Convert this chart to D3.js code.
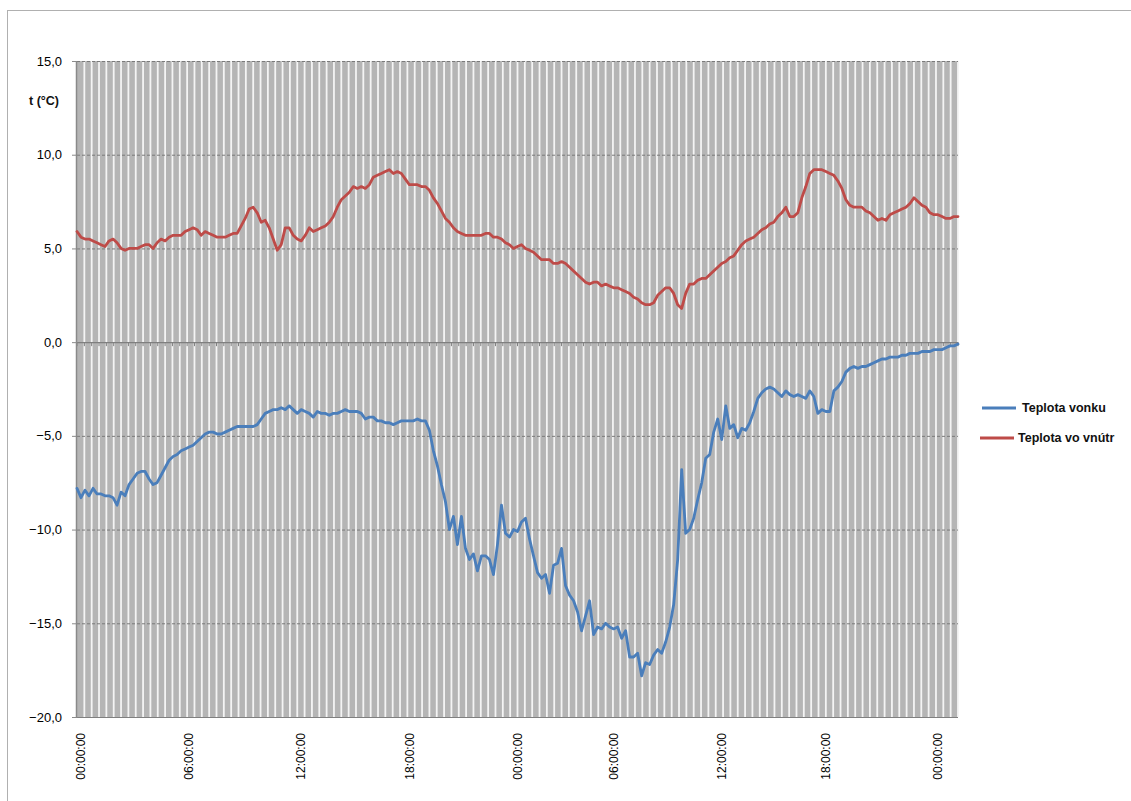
<!DOCTYPE html>
<html>
<head>
<meta charset="utf-8">
<script src="https://cdn.jsdelivr.net/npm/d3@7"></script>
<style>
  html, body { margin: 0; padding: 0; background: #fff; }
  svg { display: block; font-family: "Liberation Sans", Arial, sans-serif; }
</style>
</head>
<body>
<svg id="chart" width="1131" height="801"></svg>
<script>
// Outdoor and indoor temperature, sampled at regular intervals over two days
const tempOutside = [
  -7.8,-8.3,-7.9,-8.2,-7.8,-8.1,-8.1,-8.2,-8.2,-8.3,-8.7,-8.0,-8.2,-7.6,-7.3,-7.0,-6.9,-6.9,-7.3,-7.6,
  -7.5,-7.1,-6.7,-6.3,-6.1,-6.0,-5.8,-5.7,-5.6,-5.5,-5.3,-5.1,-4.9,-4.8,-4.8,-4.9,-4.9,-4.8,-4.7,-4.6,
  -4.5,-4.5,-4.5,-4.5,-4.5,-4.4,-4.1,-3.8,-3.7,-3.6,-3.6,-3.5,-3.6,-3.4,-3.6,-3.8,-3.6,-3.7,-3.8,-4.0,
  -3.7,-3.8,-3.8,-3.9,-3.8,-3.8,-3.7,-3.6,-3.7,-3.7,-3.7,-3.8,-4.1,-4.0,-4.0,-4.2,-4.2,-4.3,-4.3,-4.4,
  -4.3,-4.2,-4.2,-4.2,-4.2,-4.1,-4.2,-4.2,-4.7,-5.8,-6.6,-7.6,-8.5,-10.0,-9.3,-10.8,-9.3,-11.0,-11.6,-11.3,
  -12.2,-11.4,-11.4,-11.6,-12.4,-10.8,-8.7,-10.2,-10.4,-10.0,-10.1,-9.6,-9.4,-10.5,-11.4,-12.3,-12.6,-12.4,-13.4,-11.9,
  -11.8,-11.0,-13.0,-13.5,-13.8,-14.4,-15.4,-14.6,-13.8,-15.6,-15.2,-15.3,-15.0,-15.2,-15.3,-15.2,-15.8,-15.4,-16.8,-16.8,
  -16.6,-17.8,-17.1,-17.2,-16.7,-16.4,-16.6,-16.0,-15.2,-14.0,-11.6,-6.8,-10.2,-10.0,-9.4,-8.4,-7.5,-6.2,-6.0,-4.8,
  -4.1,-5.2,-3.4,-4.6,-4.4,-5.1,-4.6,-4.7,-4.3,-3.7,-3.0,-2.7,-2.5,-2.4,-2.5,-2.7,-2.9,-2.6,-2.8,-2.9,
  -2.8,-2.9,-3.0,-2.6,-2.9,-3.8,-3.6,-3.7,-3.7,-2.6,-2.4,-2.1,-1.6,-1.4,-1.3,-1.4,-1.3,-1.3,-1.2,-1.1,
  -1.0,-0.9,-0.9,-0.8,-0.8,-0.8,-0.7,-0.7,-0.6,-0.6,-0.6,-0.5,-0.5,-0.5,-0.4,-0.4,-0.4,-0.3,-0.2,-0.2,
  -0.1
];

const tempInside = [
  5.9,5.6,5.5,5.5,5.4,5.3,5.2,5.1,5.4,5.5,5.3,5.0,4.9,5.0,5.0,5.0,5.1,5.2,5.2,5.0,
  5.3,5.5,5.4,5.6,5.7,5.7,5.7,5.9,6.0,6.1,6.0,5.7,5.9,5.8,5.7,5.6,5.6,5.6,5.7,5.8,
  5.8,6.2,6.6,7.1,7.2,6.9,6.4,6.5,6.1,5.5,4.9,5.2,6.1,6.1,5.7,5.5,5.4,5.7,6.1,5.9,
  6.0,6.1,6.2,6.4,6.7,7.2,7.6,7.8,8.0,8.3,8.2,8.3,8.2,8.4,8.8,8.9,9.0,9.1,9.2,9.0,
  9.1,9.0,8.7,8.4,8.4,8.4,8.3,8.3,8.1,7.7,7.4,7.0,6.6,6.4,6.1,5.9,5.8,5.7,5.7,5.7,
  5.7,5.7,5.8,5.8,5.6,5.6,5.5,5.3,5.2,5.0,5.1,5.2,5.0,4.9,4.8,4.6,4.4,4.4,4.4,4.2,
  4.2,4.3,4.2,4.0,3.8,3.6,3.4,3.2,3.1,3.2,3.2,3.0,3.1,3.0,2.9,2.9,2.8,2.7,2.6,2.4,
  2.3,2.1,2.0,2.0,2.1,2.5,2.7,2.9,2.9,2.6,2.0,1.8,2.6,3.1,3.1,3.3,3.4,3.4,3.6,3.8,
  4.0,4.2,4.3,4.5,4.6,4.9,5.2,5.4,5.5,5.6,5.8,6.0,6.1,6.3,6.4,6.7,6.9,7.2,6.7,6.7,
  6.9,7.7,8.3,9.0,9.2,9.2,9.2,9.1,9.0,8.9,8.6,8.2,7.6,7.3,7.2,7.2,7.2,7.0,6.9,6.7,
  6.5,6.6,6.5,6.8,6.9,7.0,7.1,7.2,7.4,7.7,7.5,7.3,7.2,6.9,6.8,6.8,6.7,6.6,6.6,6.7,
  6.7
];

const seriesNames = ["Teplota vonku", "Teplota vo vnútr"];
const seriesColors = ["#4a7ebb", "#be4b48"];

// Category-axis labels and the sample index each one sits on
const tickLabels = ["00:00:00","06:00:00","12:00:00","18:00:00","00:00:00","06:00:00","12:00:00","18:00:00","00:00:00"];
const tickIndex  = [0, 27, 55, 82, 109, 133, 160, 186, 214];

// Value axis
const yTicks = [15, 10, 5, 0, -5, -10, -15, -20];
const yTitle = "t (°C)";
const gridCount = 120; // number of vertical gridline intervals

const svg = d3.select("#chart");
const plot = { left: 77, right: 958, top: 61, bottom: 717 };

const x = d3.scaleLinear().domain([0, tempOutside.length - 1]).range([plot.left, plot.right]);
const y = d3.scaleLinear().domain([-20, 15]).range([plot.bottom, plot.top]);
const xGrid = d3.scaleLinear().domain([0, gridCount]).range([plot.left, plot.right]);

// Chart frame
svg.append("rect")
  .attr("x", 7.5).attr("y", 10.5).attr("width", 1140).attr("height", 800)
  .attr("fill", "#fff").attr("stroke", "#b0b0b0").attr("stroke-width", 1);

// Plot background
svg.append("rect")
  .attr("x", plot.left).attr("y", plot.top)
  .attr("width", plot.right - plot.left).attr("height", plot.bottom - plot.top)
  .attr("fill", "#b5b5b5");

// Vertical gridlines
svg.append("g").selectAll("line")
  .data(d3.range(1, gridCount + 1))
  .join("line")
  .attr("x1", d => xGrid(d)).attr("x2", d => xGrid(d))
  .attr("y1", plot.top).attr("y2", plot.bottom)
  .attr("stroke", "#f4f4f4").attr("stroke-width", 1.8);

// Horizontal gridlines (dashed)
svg.append("g").selectAll("line")
  .data(yTicks.filter(v => v !== 0 && v !== -20))
  .join("line")
  .attr("x1", plot.left).attr("x2", plot.right)
  .attr("y1", d => y(d) + 0.5).attr("y2", d => y(d) + 0.5)
  .attr("stroke", "#7a7a7a").attr("stroke-width", 1)
  .attr("stroke-dasharray", "3,2");

// Category axis crossing at zero, with tick marks
svg.append("line")
  .attr("x1", plot.left).attr("x2", plot.right)
  .attr("y1", y(0) + 0.5).attr("y2", y(0) + 0.5)
  .attr("stroke", "#7f7f7f").attr("stroke-width", 1.2);
svg.append("g").selectAll("line")
  .data(d3.range(0, gridCount + 1))
  .join("line")
  .attr("x1", d => xGrid(d)).attr("x2", d => xGrid(d))
  .attr("y1", y(0)).attr("y2", y(0) + 4)
  .attr("stroke", "#7f7f7f").attr("stroke-width", 1);

// Bottom and left plot edges
svg.append("line")
  .attr("x1", plot.left).attr("x2", plot.right)
  .attr("y1", plot.bottom + 0.5).attr("y2", plot.bottom + 0.5)
  .attr("stroke", "#7f7f7f").attr("stroke-width", 1);
svg.append("line")
  .attr("x1", plot.left - 0.5).attr("x2", plot.left - 0.5)
  .attr("y1", plot.top).attr("y2", plot.bottom + 1)
  .attr("stroke", "#8a8a8a").attr("stroke-width", 1.5);

// Y tick marks and labels
const fmt = v => d3.format(".1f")(v).replace(".", ",");
svg.append("g").selectAll("line")
  .data(yTicks)
  .join("line")
  .attr("x1", plot.left - 5).attr("x2", plot.left)
  .attr("y1", d => y(d) + 0.5).attr("y2", d => y(d) + 0.5)
  .attr("stroke", "#8a8a8a");
svg.append("g").selectAll("text")
  .data(yTicks)
  .join("text")
  .attr("x", 62).attr("y", d => y(d))
  .attr("dy", "0.35em")
  .attr("text-anchor", "end")
  .attr("font-size", 13)
  .attr("fill", "#000")
  .text(fmt);

svg.append("text")
  .attr("x", 29).attr("y", 101)
  .attr("dy", "0.35em")
  .attr("font-size", 12.5).attr("font-weight", "bold")
  .attr("fill", "#111")
  .text(yTitle);

// X tick labels (rotated)
svg.append("g").selectAll("text")
  .data(tickIndex)
  .join("text")
  .attr("transform", d => `translate(${x(d) + 4},733) rotate(-90)`)
  .attr("dy", "0.35em")
  .attr("text-anchor", "end")
  .attr("font-size", 12)
  .attr("fill", "#000")
  .text((d, i) => tickLabels[i]);

// Series lines
const line = d3.line()
  .x((d, i) => x(i))
  .y(d => y(d))
  .curve(d3.curveLinear);

[tempOutside, tempInside].forEach((series, k) => {
  svg.append("path")
    .datum(series)
    .attr("fill", "none")
    .attr("stroke", seriesColors[k])
    .attr("stroke-width", 2.8)
    .attr("stroke-linejoin", "round")
    .attr("stroke-linecap", "round")
    .attr("d", line);
});

// Legend
const legend = svg.append("g");
const legendRows = [
  { name: seriesNames[0], color: seriesColors[0], y: 408, x0: 982, x1: 1016, tx: 1022 },
  { name: seriesNames[1], color: seriesColors[1], y: 438, x0: 980, x1: 1014, tx: 1018 }
];
legendRows.forEach(r => {
  legend.append("line")
    .attr("x1", r.x0).attr("x2", r.x1)
    .attr("y1", r.y).attr("y2", r.y)
    .attr("stroke", r.color).attr("stroke-width", 3);
  legend.append("text")
    .attr("x", r.tx).attr("y", r.y)
    .attr("dy", "0.35em")
    .attr("font-size", 12.5).attr("font-weight", "bold")
    .attr("fill", "#111")
    .text(r.name);
});
</script>
</body>
</html>
